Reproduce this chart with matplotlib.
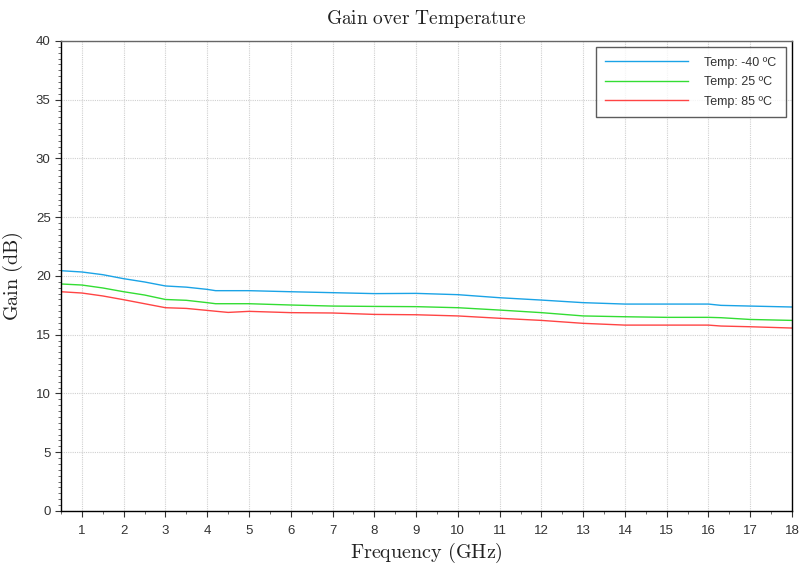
import matplotlib
matplotlib.use("Agg")
import matplotlib.pyplot as plt
from matplotlib.ticker import MultipleLocator

freq = [0.5, 1, 1.5, 2, 2.5, 3, 3.5, 4, 4.2, 4.5, 5, 6, 7, 8, 9, 10, 11, 12, 13, 14, 15, 16, 16.3, 17, 18]
gain_m40 = [20.45, 20.34, 20.11, 19.77, 19.49, 19.15, 19.05, 18.86, 18.75, 18.75, 18.75, 18.66, 18.58, 18.5,
            18.52, 18.41, 18.15, 17.95, 17.73, 17.61, 17.61, 17.61, 17.5, 17.44, 17.36]
gain_25 = [19.32, 19.23, 18.98, 18.66, 18.38, 18.0, 17.93, 17.73, 17.64, 17.64, 17.64, 17.53, 17.44, 17.41,
           17.39, 17.3, 17.1, 16.88, 16.6, 16.53, 16.48, 16.48, 16.45, 16.3, 16.22]
gain_85 = [18.66, 18.55, 18.3, 17.98, 17.64, 17.3, 17.24, 17.07, 17.0, 16.9, 16.99, 16.88, 16.85, 16.73,
           16.7, 16.6, 16.4, 16.22, 15.97, 15.82, 15.82, 15.82, 15.74, 15.68, 15.57]
labels = ["Temp: -40 ºC", "Temp: 25 ºC", "Temp: 85 ºC"]
colors = ["#1aa3e6", "#33dd33", "#ff4444"]

plt.rcParams['mathtext.fontset'] = 'cm'
plt.rcParams['font.family'] = ['Liberation Sans', 'DejaVu Sans']

fig = plt.figure(figsize=(8, 5.67), dpi=100)
ax = fig.add_axes([0.0763, 0.0988, 0.9137, 0.8289])

for y, lab, c in zip([gain_m40, gain_25, gain_85], labels, colors):
    ax.plot(freq, y, color=c, lw=1.0, label=lab)

ax.set_xlim(0.5, 18)
ax.set_ylim(0, 40)
ax.xaxis.set_major_locator(MultipleLocator(1))
ax.xaxis.set_minor_locator(MultipleLocator(0.5))
ax.yaxis.set_major_locator(MultipleLocator(5))
ax.yaxis.set_minor_locator(MultipleLocator(0.5))
ax.tick_params(which='major', direction='out', length=4, labelsize=9.5, colors='#333333', labelcolor='#333333')
ax.tick_params(which='minor', direction='out', length=2, colors='#555555')
ax.tick_params(axis='x', pad=6)
ax.grid(True, which='major', color='#d0d0d0', linestyle=(0, (1, 1)), lw=0.8)

for s in ['left', 'bottom', 'right']:
    ax.spines[s].set_color('#000000')
ax.spines['top'].set_color('#666666')
for s in ax.spines.values():
    s.set_linewidth(1.0)

ax.set_title(r'$\mathrm{Gain\ over\ Temperature}$', fontsize=14, pad=12, color='#222222')
ax.set_xlabel(r'$\mathrm{Frequency\ (GHz)}$', fontsize=14.5, color='#222222', labelpad=3)
ax.set_ylabel(r'$\mathrm{Gain\ (dB)}$', fontsize=14.5, color='#222222', labelpad=8)

leg = ax.legend(loc='upper right', fontsize=9, frameon=True, fancybox=False, handlelength=6.6,
                handletextpad=1.3, borderaxespad=0.5, labelspacing=0.6, borderpad=0.75)
leg.get_frame().set_edgecolor('#333333')
leg.get_frame().set_linewidth(1.0)
for t in leg.get_texts():
    t.set_color('#333333')

fig.savefig("out.png", dpi=100)
